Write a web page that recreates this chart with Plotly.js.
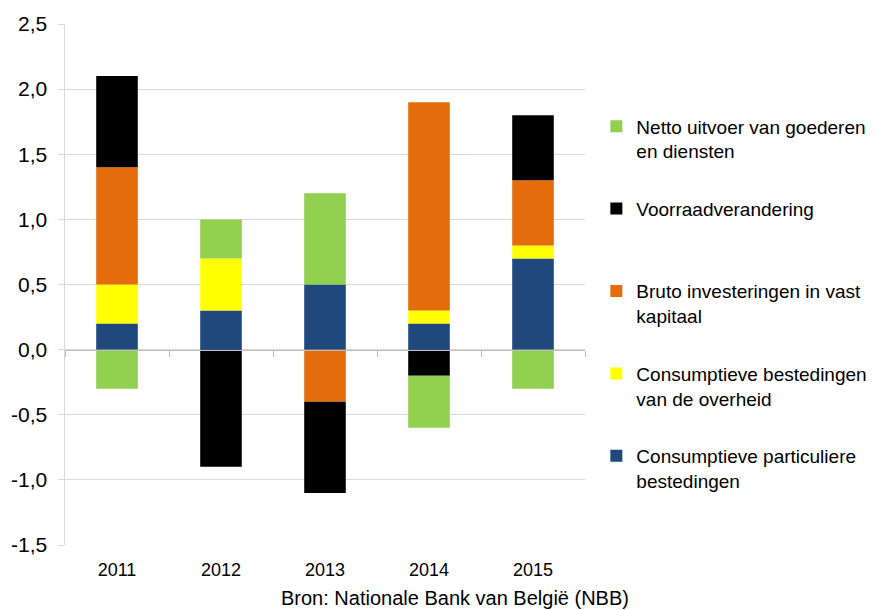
<!DOCTYPE html>
<html>
<head>
<meta charset="utf-8">
<script src="https://cdn.plot.ly/plotly-3.0.1.min.js"></script>
<style>html,body{margin:0;padding:0;background:#fff;}#chart{width:877px;height:610px;}</style>
</head>
<body>
<div id="chart"></div>
<script>
const years = ['2011', '2012', '2013', '2014', '2015'];
const particuliere = [0.2, 0.3, 0.5, 0.2, 0.7];
const overheid = [0.3, 0.4, 0, 0.1, 0.1];
const investeringen = [0.9, 0, -0.4, 1.6, 0.5];
const voorraad = [0.7, -0.9, -0.7, -0.2, 0.5];
const netto = [-0.3, 0.3, 0.7, -0.4, -0.3];

const yTickVals = [-1.5, -1.0, -0.5, 0, 0.5, 1.0, 1.5, 2.0, 2.5];
const yTickLabels = ['-1,5', '-1,0', '-0,5', '0,0', '0,5', '1,0', '1,5', '2,0', '2,5'];

const names = [
  'Consumptieve particuliere<br>bestedingen',
  'Consumptieve bestedingen<br>van de overheid',
  'Bruto investeringen in vast<br>kapitaal',
  'Voorraadverandering<br> ',
  'Netto uitvoer van goederen<br>en diensten'
];
const colors = ['#1f497d', '#ffff00', '#e46c0a', '#000000', '#92d050'];
const series = [particuliere, overheid, investeringen, voorraad, netto];

const FONT = '"Liberation Sans", Arial, sans-serif';

const traces = series.map((vals, i) => ({
  type: 'bar',
  x: years,
  y: vals,
  name: names[i],
  legendgroup: 'g' + i,
  legendrank: 5 - i,
  marker: {color: colors[i], line: {width: 0}},
  hoverinfo: 'x+y+name'
}));

traces.push({
  type: 'scatter',
  x: years,
  y: years.map(() => null),
  xaxis: 'x2',
  yaxis: 'y',
  mode: 'markers',
  showlegend: false,
  hoverinfo: 'skip'
});

const layout = {
  width: 877,
  height: 610,
  margin: {l: 65, r: 292, t: 24, b: 65},
  paper_bgcolor: '#ffffff',
  plot_bgcolor: '#ffffff',
  font: {family: FONT, size: 18, color: '#000000'},
  separators: ',.',
  barmode: 'relative',
  bargap: 0.6,
  showlegend: true,
  legend: {
    xref: 'container', yref: 'container',
    x: 0.68, y: 0.824, xanchor: 'left', yanchor: 'top',
    traceorder: 'grouped',
    tracegroupgap: 30,
    valign: 'top',
    maxheight: 1,
    font: {family: FONT, size: 19, color: '#000000'},
    bgcolor: 'rgba(0,0,0,0)'
  },
  xaxis: {
    type: 'category',
    showgrid: false,
    showline: false,
    ticks: '',
    ticklabelstandoff: 12,
    tickfont: {family: FONT, size: 18, color: '#000000'},
    fixedrange: true
  },
  xaxis2: {
    type: 'category',
    overlaying: 'x',
    matches: 'x',
    anchor: 'free',
    position: 0.375,
    showline: true,
    linecolor: '#bfbfbf',
    linewidth: 1.5,
    ticks: 'outside',
    tickson: 'boundaries',
    ticklen: 6,
    tickcolor: '#bfbfbf',
    showticklabels: false,
    showgrid: false
  },
  yaxis: {
    range: [-1.5, 2.5],
    tickmode: 'array',
    tickvals: yTickVals,
    ticktext: yTickLabels,
    showgrid: true,
    gridcolor: '#d9d9d9',
    gridwidth: 1,
    zeroline: false,
    showline: true,
    linecolor: '#d9d9d9',
    linewidth: 1.5,
    ticks: 'outside',
    ticklen: 6,
    tickcolor: '#d9d9d9',
    ticklabelstandoff: 6,
    tickfont: {family: FONT, size: 21, color: '#000000'},
    fixedrange: true
  },
  annotations: [{
    text: 'Bron: Nationale Bank van België (NBB)',
    xref: 'paper', yref: 'paper',
    x: 0.75, y: -0.101,
    xanchor: 'center', yanchor: 'middle',
    showarrow: false,
    font: {family: FONT, size: 20, color: '#000000'}
  }]
};

Plotly.newPlot('chart', traces, layout, {displayModeBar: false, staticPlot: true});
</script>
</body>
</html>
